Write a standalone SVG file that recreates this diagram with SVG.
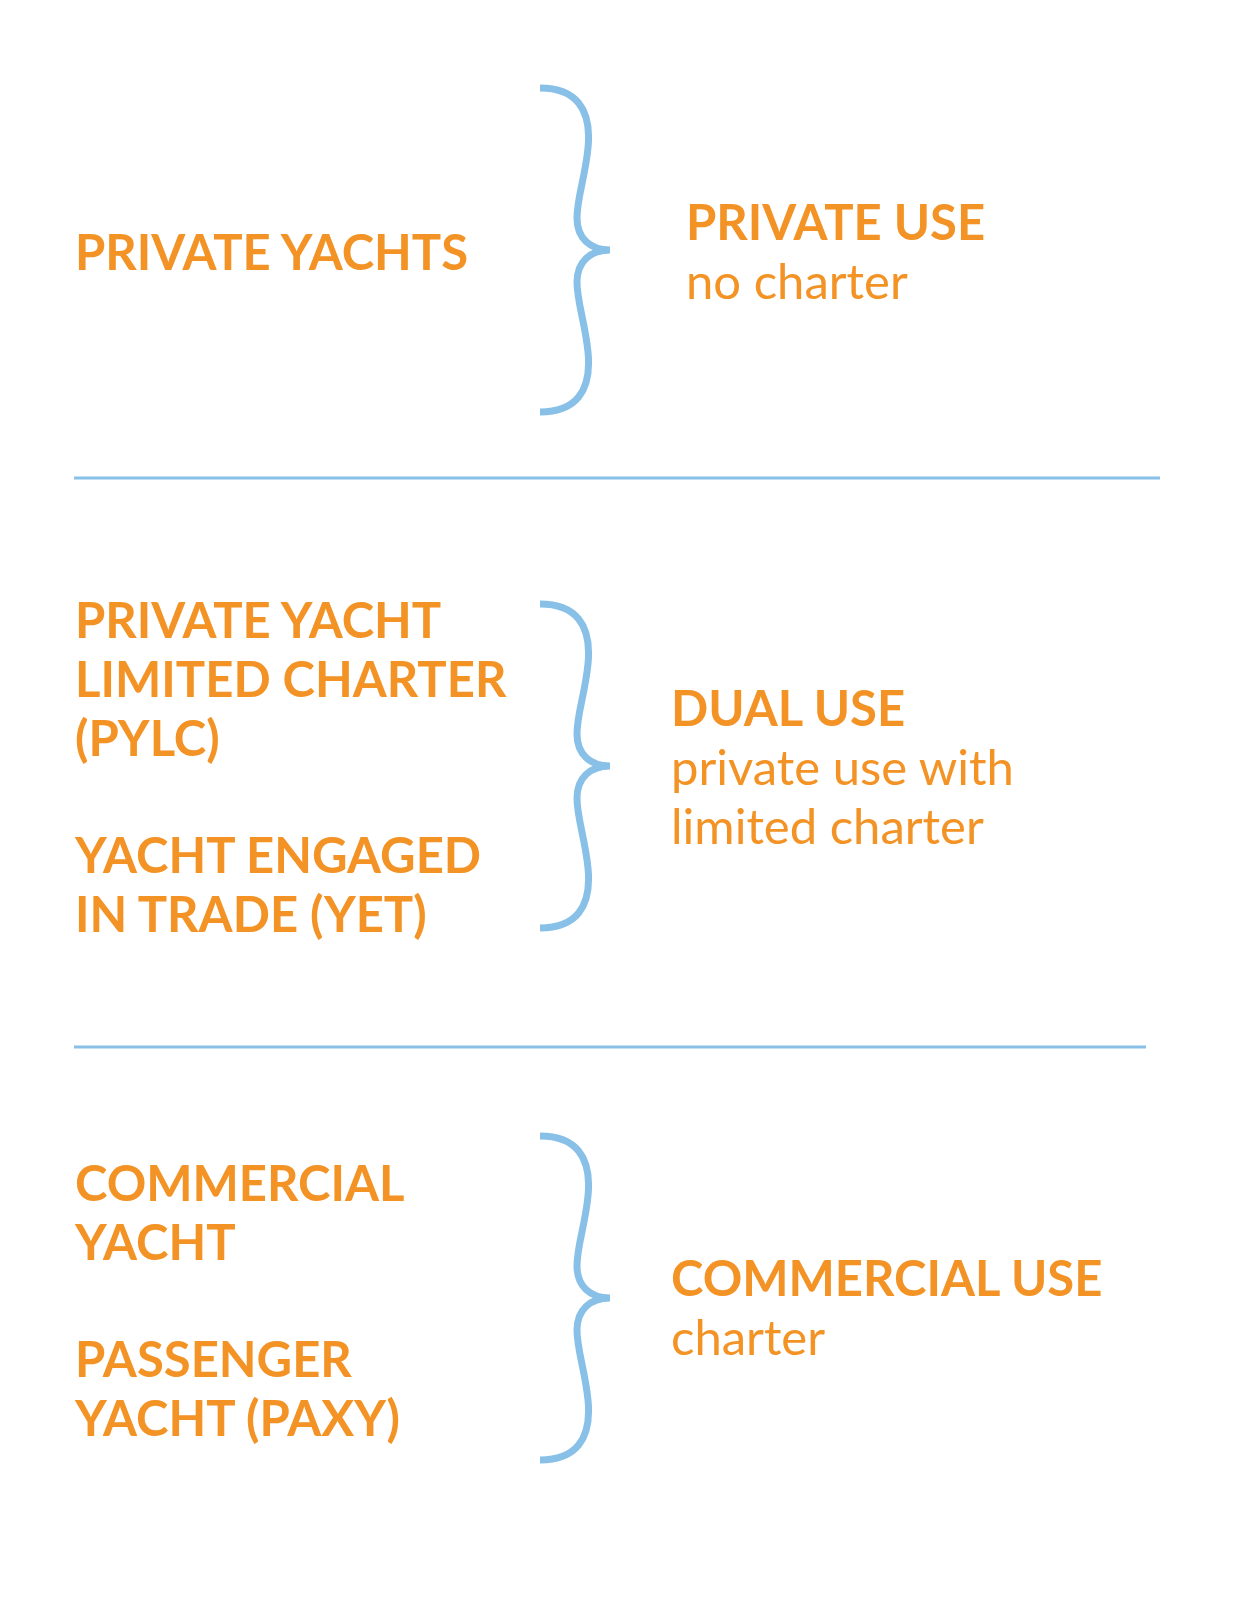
<svg xmlns="http://www.w3.org/2000/svg" width="1237" height="1597" viewBox="0 0 1237 1597">
<style>
.t{font-family:Lato,"Liberation Sans",sans-serif;font-size:49px;fill:#F39325}
.b{font-weight:bold}
.br{fill:none;stroke:#88C0E8;stroke-width:7;stroke-linecap:butt}
.ln{stroke:#88C0E8;stroke-width:3}
</style>
<defs>
<path id="brace" class="br" d="M540,0 C575,0 592,20 588,60 C585,90 577,110 577,130 C577,150 590,162 610,162 C590,162 577,174 577,194 C577,214 585,234 588,264 C592,304 575,324 540,324"/>
</defs>
<rect width="1237" height="1597" fill="#fff"/>
<g id="connectors">
<use href="#brace" y="88"/>
<use href="#brace" y="604"/>
<use href="#brace" y="1136"/>
<line class="ln" x1="74" y1="478" x2="1160" y2="478"/>
<line class="ln" x1="74" y1="1047" x2="1146" y2="1047"/>
</g>
<g id="left1"><text class="t b" x="75" y="270">PRIVATE YACHTS</text></g>
<g id="right1"><text class="t b" x="686" y="240">PRIVATE USE</text><text class="t" x="686" y="299">no charter</text></g>
<g id="left2"><text class="t b" x="75" y="638">PRIVATE YACHT</text><text class="t b" x="75" y="697">LIMITED CHARTER</text><text class="t b" x="75" y="756">(PYLC)</text>
<text class="t b" x="75" y="873">YACHT ENGAGED</text><text class="t b" x="75" y="932">IN TRADE (YET)</text></g>
<g id="right2"><text class="t b" x="671" y="726">DUAL USE</text><text class="t" x="671" y="785">private use with</text><text class="t" x="671" y="844">limited charter</text></g>
<g id="left3"><text class="t b" x="75" y="1201">COMMERCIAL</text><text class="t b" x="75" y="1260">YACHT</text>
<text class="t b" x="75" y="1377">PASSENGER</text><text class="t b" x="75" y="1436">YACHT (PAXY)</text></g>
<g id="right3"><text class="t b" x="671" y="1296">COMMERCIAL USE</text><text class="t" x="671" y="1355">charter</text></g>
</svg>
